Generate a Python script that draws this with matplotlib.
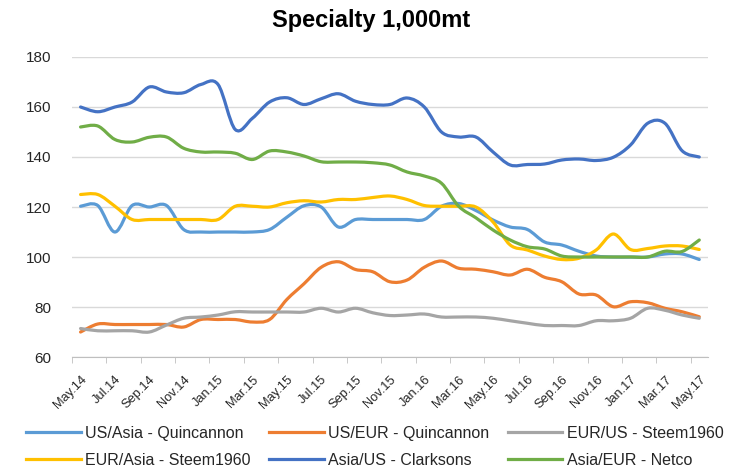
import numpy as np
import matplotlib
matplotlib.use('Agg')
from matplotlib import pyplot as plt
from matplotlib.path import Path
from matplotlib.patches import PathPatch
from matplotlib.lines import Line2D

plt.rcParams['font.family'] = ['Liberation Sans', 'DejaVu Sans']

months = ['May.14', 'Jun.14', 'Jul.14', 'Aug.14', 'Sep.14', 'Oct.14', 'Nov.14', 'Dec.14',
          'Jan.15', 'Feb.15', 'Mar.15', 'Apr.15', 'May.15', 'Jun.15', 'Jul.15', 'Aug.15',
          'Sep.15', 'Oct.15', 'Nov.15', 'Dec.15', 'Jan.16', 'Feb.16', 'Mar.16', 'Apr.16',
          'May.16', 'Jun.16', 'Jul.16', 'Aug.16', 'Sep.16', 'Oct.16', 'Nov.16', 'Dec.16',
          'Jan.17', 'Feb.17', 'Mar.17', 'Apr.17', 'May.17']

us_asia = [120.3, 120.6, 110, 120.6, 120, 120.6, 111, 110, 110, 110, 110, 111,
           115.9, 120.5, 120, 112, 115, 115, 115, 115, 115, 120.3, 121.4, 118.6,
           114.8, 112, 111, 106, 104.8, 102.3, 100.4, 100, 100, 100, 101.2, 101.2, 99]
us_eur = [70, 73.2, 73, 73, 73, 73, 72, 75, 75, 75, 74, 75,
          83, 89.3, 95.9, 98.1, 95, 94.1, 90.1, 90.8, 95.9, 98.4, 95.5, 95.1,
          94.1, 92.8, 95.1, 91.9, 90.1, 85.2, 84.8, 80.1, 82.1, 81.7, 79.5, 78.1, 76.1]
eur_us = [71.4, 70.5, 70.5, 70.5, 70, 72.8, 75.5, 76, 76.8, 78.1, 78, 78,
          78, 78, 79.5, 78, 79.5, 77.7, 76.6, 76.8, 77.2, 76, 76, 76,
          75.5, 74.5, 73.5, 72.6, 72.6, 72.6, 74.5, 74.5, 75.5, 79.5, 78.7, 76.8, 75.5]
eur_asia = [125, 125, 120.3, 115, 115, 115, 115, 115, 115, 120.3, 120.3, 120,
            121.7, 122.5, 122, 123, 123, 123.8, 124.4, 123, 120.6, 120.3, 120.3, 120,
            114, 104.8, 102.8, 100.4, 99, 99.5, 102.8, 109.2, 103, 103.4, 104.4, 104.4, 103]
asia_us = [160, 158.1, 160, 162, 168, 166, 165.7, 169, 169, 151, 155.5, 162,
           163.7, 161, 163.3, 165.3, 162.3, 161, 161, 163.6, 160, 150, 148, 148,
           142, 136.8, 137, 137.2, 138.8, 139.2, 138.6, 139.9, 144.8, 153.5, 153.5, 142.5, 140]
asia_eur = [152, 152.4, 147, 146, 147.9, 148, 143.5, 142, 142, 141.5, 139, 142.4,
            142, 140.4, 138.1, 138, 138, 137.7, 136.8, 134, 132.4, 129.5, 120.3, 115.7,
            110.8, 106.8, 104.1, 103.2, 100.4, 100, 100, 100, 100, 100, 102.3, 102.2, 106.8]

series = [
    ('US/Asia - Quincannon', us_asia, '#5B9BD5'),
    ('US/EUR - Quincannon', us_eur, '#ED7D31'),
    ('EUR/US - Steem1960', eur_us, '#A5A5A5'),
    ('EUR/Asia - Steem1960', eur_asia, '#FFC000'),
    ('Asia/US - Clarksons', asia_us, '#4472C4'),
    ('Asia/EUR - Netco', asia_eur, '#70AD47'),
]


def smooth_path(x, y):
    # Excel-like smoothed line: Catmull-Rom segments as cubic Bezier curves
    pts = np.column_stack([x, y])
    n = len(pts)
    verts = [pts[0]]
    codes = [Path.MOVETO]
    for i in range(n - 1):
        p0 = pts[max(i - 1, 0)]
        p1 = pts[i]
        p2 = pts[i + 1]
        p3 = pts[min(i + 2, n - 1)]
        c1 = p1 + (p2 - p0) / 6.0
        c2 = p2 - (p3 - p1) / 6.0
        verts += [c1, c2, p2]
        codes += [Path.CURVE4] * 3
    return Path(verts, codes)


fig = plt.figure(figsize=(7.42, 4.71), dpi=100)
ax = fig.add_axes([0.097, 0.242, 0.857, 0.637])

x = np.arange(len(months))
handles = []
for name, vals, color in series:
    patch = PathPatch(smooth_path(x, vals), facecolor='none', edgecolor=color,
                      lw=2.3, capstyle='round', joinstyle='round')
    ax.add_patch(patch)
    handles.append(Line2D([], [], color=color, lw=2.3, label=name))

ax.set_xlim(-0.5, len(months) - 0.5)
ax.set_ylim(60, 180)
ax.set_yticks(range(60, 181, 20))
ax.yaxis.grid(True, color='#d9d9d9', lw=1)
ax.set_axisbelow(True)

ax.set_xticks(x[::2])
ax.set_xticklabels(months[::2], rotation=45, ha='right', rotation_mode='anchor')
ax.set_xticks(np.arange(-0.5, len(months), 2), minor=True)
ax.tick_params(axis='x', which='major', length=0, pad=12, labelsize=9.3)
ax.tick_params(axis='x', which='minor', length=4, color='#bfbfbf')
ax.tick_params(axis='y', length=0, pad=15, labelsize=11)
for lab in ax.get_xticklabels() + ax.get_yticklabels():
    lab.set_color('#262626')

for side in ['top', 'right', 'left']:
    ax.spines[side].set_visible(False)
ax.spines['bottom'].set_color('#bfbfbf')

fig.text(0.5, 0.957, 'Specialty 1,000mt', ha='center', va='center',
         fontsize=17, fontweight='bold')

order = [0, 3, 1, 4, 2, 5]
fig.legend([handles[i] for i in order], [handles[i].get_label() for i in order],
           ncol=3, loc='lower left', bbox_to_anchor=(0.016, -0.024), frameon=False,
           fontsize=11.5, handlelength=3.4, columnspacing=1.15,
           handletextpad=0.3, labelspacing=0.75, labelcolor='#262626')

fig.savefig('out.png', dpi=100)
